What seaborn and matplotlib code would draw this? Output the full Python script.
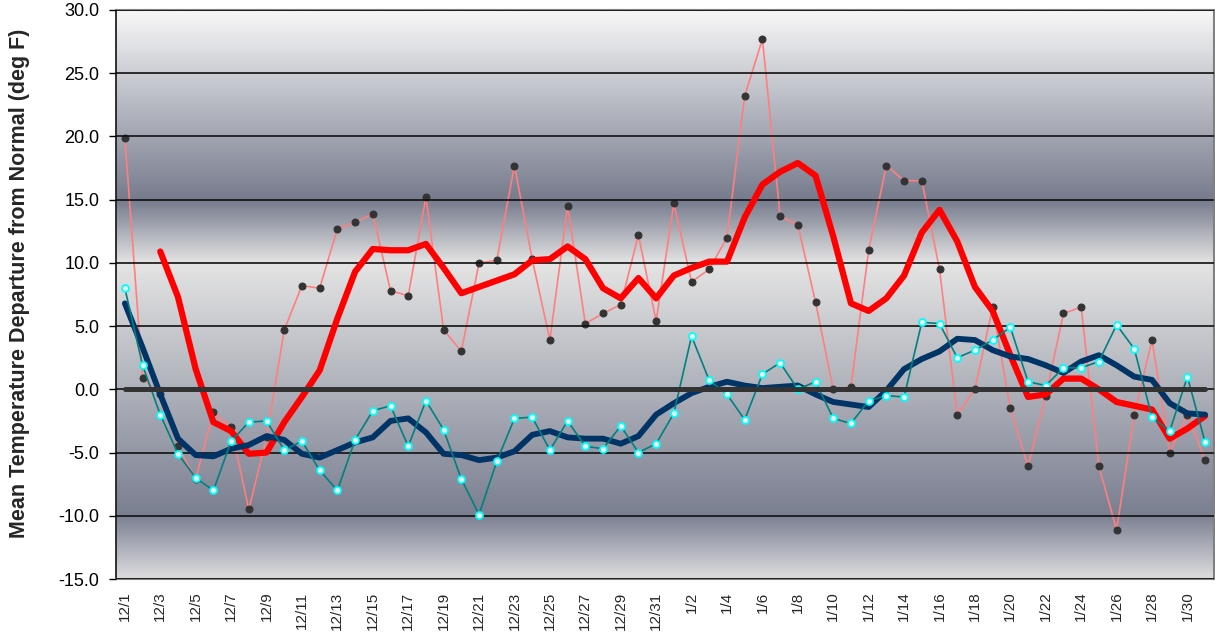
import numpy as np
import pandas as pd
import seaborn as sns
import matplotlib.pyplot as plt
from matplotlib.colors import LinearSegmentedColormap

# dates: 12/1 .. 1/31
days = [f"12/{d}" for d in range(1, 32)] + [f"1/{d}" for d in range(1, 32)]

# daily departures, first site (dark dots)
obs_a = [19.9, 0.9, -0.4, -4.5, -7.1, -1.8, -3.0, -9.5, -3.8, 4.7, 8.2, 8.0, 12.7, 13.2, 13.9, 7.8,
         7.4, 15.2, 4.7, 3.0, 10.0, 10.2, 17.7, 10.3, 3.9, 14.5, 5.2, 6.0, 6.7, 12.2, 5.4,
         14.7, 8.5, 9.5, 12.0, 23.2, 27.7, 13.7, 13.0, 6.9, 0.0, 0.2, 11.0, 17.7, 16.5, 16.5, 9.5,
         -2.0, 0.0, 6.5, -1.5, -6.1, -0.5, 6.0, 6.5, -6.1, -11.1, -2.0, 3.9, -5.0, -2.0, -5.6]

# daily departures, second site (cyan dots)
obs_b = [8.0, 1.9, -2.0, -5.1, -7.0, -8.0, -4.1, -2.6, -2.5, -4.8, -4.1, -6.4, -8.0, -4.0, -1.7, -1.3,
         -4.5, -0.9, -3.2, -7.1, -9.9, -5.7, -2.3, -2.2, -4.8, -2.5, -4.5, -4.7, -2.9, -5.0, -4.3,
         -1.9, 4.2, 0.7, -0.4, -2.4, 1.2, 2.1, 0.0, 0.6, -2.3, -2.7, -0.9, -0.5, -0.6, 5.3, 5.2,
         2.5, 3.1, 3.9, 4.9, 0.6, 0.3, 1.7, 1.7, 2.2, 5.1, 3.2, -2.2, -3.3, 1.0, -4.2]

# smoothed curves
avg_a = [np.nan, np.nan, 10.9, 7.3, 1.6, -2.6, -3.3, -5.1, -5.0, -2.6, -0.6, 1.5, 5.6, 9.3, 11.1, 11.0,
         11.0, 11.5, 9.6, 7.6, 8.1, 8.6, 9.1, 10.2, 10.3, 11.3, 10.3, 8.0, 7.2, 8.8, 7.2,
         9.0, 9.6, 10.1, 10.1, 13.6, 16.2, 17.2, 17.9, 16.9, 12.1, 6.8, 6.2, 7.2, 9.0, 12.4, 14.2,
         11.7, 8.1, 6.2, 2.7, -0.6, -0.4, 0.85, 0.85, 0.0, -1.0, -1.3, -1.6, -3.9, -3.1, -2.1]

avg_b = [6.8, 3.3, -0.4, -3.9, -5.2, -5.3, -4.7, -4.4, -3.7, -4.0, -5.1, -5.4, -4.8, -4.2, -3.8, -2.5,
         -2.3, -3.4, -5.1, -5.2, -5.6, -5.4, -4.9, -3.6, -3.3, -3.8, -3.9, -3.9, -4.3, -3.7, -2.0,
         -1.1, -0.3, 0.2, 0.6, 0.3, 0.1, 0.2, 0.3, -0.4, -1.0, -1.2, -1.4, -0.1, 1.6, 2.4, 3.0,
         4.0, 3.9, 3.1, 2.6, 2.4, 1.9, 1.3, 2.2, 2.7, 1.9, 1.0, 0.75, -1.1, -1.9, -2.0]

normal = [0.0] * len(days)

df = pd.DataFrame({'day': np.arange(len(days)), 'obs_a': obs_a, 'obs_b': obs_b,
                   'avg_a': avg_a, 'avg_b': avg_b, 'normal': normal})

sns.set_style('white')
plt.rcParams['font.family'] = ['Liberation Sans', 'DejaVu Sans']

fig = plt.figure(figsize=(12.15, 6.39), dpi=100)
ax = fig.add_axes([116 / 1215, 60 / 639, 1098 / 1215, 569 / 639])

# gradient background
stops = [(0.0, '#dcdcde'), (5 / 45, '#7a7f91'), (25 / 45, '#e4e4e4'),
         (30 / 45, '#767b8d'), (1.0, '#f7f7f7')]
cmap = LinearSegmentedColormap.from_list('bg', stops)
grad = np.linspace(0, 1, 500).reshape(-1, 1)
ax.imshow(grad, cmap=cmap, origin='lower', aspect='auto',
          extent=[-0.5, len(days) - 0.5, -15, 30], zorder=0)

sns.lineplot(data=df, x='day', y='obs_a', ax=ax, color='#ff7f7f', linewidth=1.2,
             marker='o', markersize=5, markerfacecolor='#333333', markeredgecolor='#333333', zorder=2)
sns.lineplot(data=df, x='day', y='avg_a', ax=ax, color='#ff0000', linewidth=4.5, zorder=3)
sns.lineplot(data=df, x='day', y='avg_b', ax=ax, color='#003366', linewidth=4.2, zorder=4)
sns.lineplot(data=df, x='day', y='obs_b', ax=ax, color='#008080', linewidth=1.2,
             marker='o', markersize=5, markerfacecolor='#e8ffff', markeredgecolor='#00ffff',
             markeredgewidth=1.3, zorder=5)
sns.lineplot(data=df, x='day', y='normal', ax=ax, color='#333333', linewidth=3.6, zorder=6)

ax.set_xlim(-0.5, len(days) - 0.5)
ax.set_ylim(-15, 30)
ax.set_yticks(np.arange(-15, 31, 5))
ax.set_yticklabels([f"{v:.1f}" for v in np.arange(-15, 31, 5)], fontsize=13)
ax.set_xticks(df['day'][::2])
ax.set_xticklabels(days[::2], rotation=90, fontsize=11, va='top')
ax.tick_params(axis='x', length=0, pad=9)
ax.tick_params(axis='y', length=5, width=1, direction='out', left=True, pad=7, colors='black')

ax.grid(axis='y', color='#111111', linewidth=1.2)
ax.set_axisbelow(False)
for line in ax.get_ygridlines():
    line.set_zorder(1)

ax.spines['left'].set_color('#222222')
ax.spines['left'].set_linewidth(1.3)
for s in ['top', 'bottom', 'right']:
    ax.spines[s].set_color('#808080')
    ax.spines[s].set_linewidth(1.5)

ax.set_xlabel('')
ax.set_ylabel('Mean Temperature Departure from Normal (deg F)', fontsize=15.5, fontweight='bold')
ax.yaxis.set_label_coords(-0.078, 0.52)

fig.savefig('out.png', dpi=100)
